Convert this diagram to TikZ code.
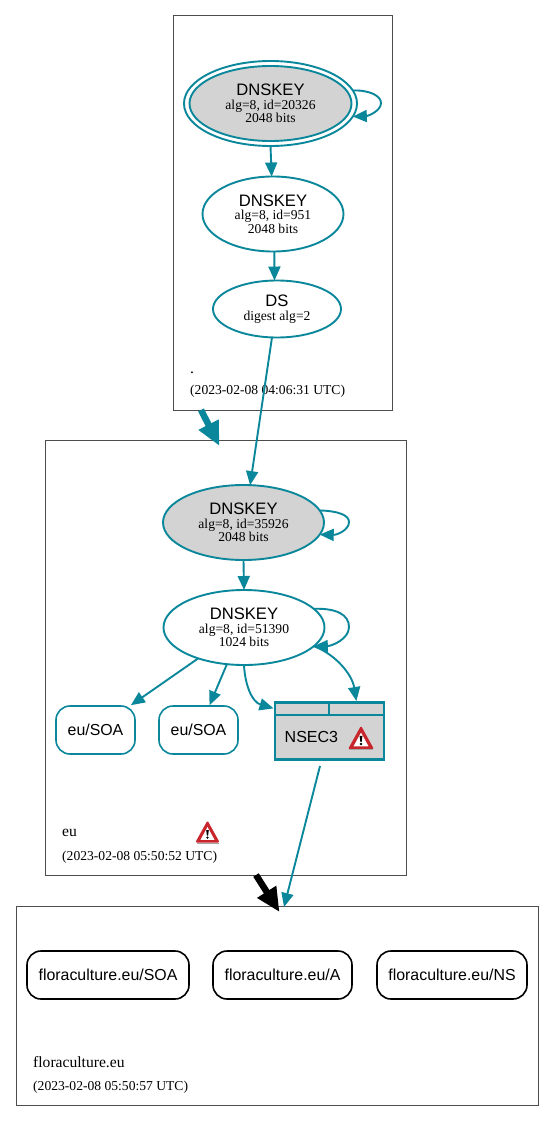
\documentclass[tikz,border=0pt]{standalone}
\usepackage{fontspec}
\setmainfont{Liberation Serif}
\setsansfont{Liberation Sans}
\usetikzlibrary{shapes,arrows.meta,positioning,calc}
\definecolor{dnsteal}{HTML}{0A879A}
\definecolor{dnsgray}{HTML}{D3D3D3}
\definecolor{zoneline}{HTML}{4D4D4D}
\definecolor{warnred}{HTML}{C9252C}
\newcommand{\titlefont}{\sffamily\fontsize{16.6}{15}\selectfont}
\newcommand{\detailfont}{\rmfamily\fontsize{13.6}{13.5}\selectfont}
\newcommand{\namefont}{\rmfamily\fontsize{15.6}{15}\selectfont}
\tikzset{
  zonebox/.style={draw=zoneline, line width=0.8pt, rectangle, inner sep=0pt, anchor=north west},
  keynode/.style={draw=dnsteal, line width=1.9pt, ellipse, inner sep=0pt, outer sep=0pt, align=center, font=\detailfont},
  keygray/.style={keynode, fill=dnsgray},
  rrnode/.style={draw=dnsteal, line width=1.6pt, rectangle, rounded corners=14pt, inner sep=0pt, font=\sffamily\fontsize{15.9}{16}\selectfont, minimum height=48pt},
  hostnode/.style={rrnode, draw=black},
  zonetext/.style={anchor=base west, inner sep=0pt, font=\detailfont},
  edge/.style={draw=dnsteal, line width=1.9pt, -{Triangle[length=14pt,width=12pt]}},
  zonearrow/.style={line width=6.5pt, -{Triangle[length=24pt,width=21pt]}},
  warnicon/.pic={
    \fill[warnred, draw=warnred, line width=2pt, line join=round] (-10.5,9.5) -- (0,-9.5) -- (10.5,9.5) -- cycle;
    \fill[gray!70] (-11,10.5) rectangle (11,11.5);
    \fill[white] (-7,7.8) -- (0,-5) -- (7,7.8) -- cycle;
    \fill[black] (-1.3,-2) -- (1.3,-2) -- (0.6,3.5) -- (-0.6,3.5) -- cycle;
    \fill[black] (0,5.6) circle (1.3);
  }
}
\begin{document}
\begin{tikzpicture}[x=1pt, y=-1pt]
  \useasboundingbox (0,0) rectangle (555,1121);
  % Root zone
  \node[zonebox, minimum width=218.5pt, minimum height=394pt] (zoneroot) at (173,15.5) {};
  \node[zonetext, font=\namefont] (rootname) at (190,373) {.};
  \node[zonetext] (roottime) at (190,394) {(2023-02-08 04:06:31 UTC)};
  % eu zone
  \node[zonebox, minimum width=361pt, minimum height=435pt] (zoneeu) at (45,440) {};
  \node[zonetext, font=\namefont] (euname) at (62,836) {eu};
  \node[zonetext] (eutime) at (62,860.5) {(2023-02-08 05:50:52 UTC)};
  \pic at (207.5,832) {warnicon};
  % floraculture zone
  \node[zonebox, minimum width=522.5pt, minimum height=198.5pt] (zoneflora) at (15.7,906) {};
  \node[zonetext, font=\namefont] (floraname) at (33,1067) {floraculture.eu};
  \node[zonetext] (floratime) at (33,1090) {(2023-02-08 05:50:57 UTC)};
  % Root keys
  \node[keynode, minimum width=173pt, minimum height=85pt] (rootouter) at (270.5,103.5) {};
  \node[keygray, minimum width=162pt, minimum height=75pt] (rootksk) at (270.5,103.5) {{\titlefont DNSKEY}\\alg=8, id=20326\\2048 bits};
  \node[keynode, minimum width=141pt, minimum height=75pt] (rootzsk) at (273,214) {{\titlefont DNSKEY}\\alg=8, id=951\\2048 bits};
  \node[keynode, minimum width=128pt, minimum height=57pt] (rootds) at (277,309) {{\titlefont DS}\\digest alg=2};
  % eu keys
  \node[keygray, minimum width=161pt, minimum height=75pt] (euksk) at (243.5,522.5) {{\titlefont DNSKEY}\\alg=8, id=35926\\2048 bits};
  \node[keynode, minimum width=161pt, minimum height=75pt] (euzsk) at (244,627.5) {{\titlefont DNSKEY}\\alg=8, id=51390\\1024 bits};
  % eu records
  \node[rrnode, minimum width=79pt] (eusoaone) at (95.5,730) {eu/SOA};
  \node[rrnode, minimum width=79pt] (eusoatwo) at (198.5,730) {eu/SOA};
  % NSEC3
  \node[draw=dnsteal, fill=dnsgray, line width=2.6pt, rectangle, inner sep=0pt, minimum width=109pt, minimum height=57pt, anchor=north west] (nsec) at (273.5,701) {};
  \node[draw=dnsteal, line width=1.8pt, rectangle, inner sep=0pt, minimum width=54pt, minimum height=13pt, anchor=north west] (nseccellone) at (273.5,701) {};
  \node[draw=dnsteal, line width=1.8pt, rectangle, inner sep=0pt, minimum width=54pt, minimum height=13pt, anchor=north west] (nseccelltwo) at (328.5,701) {};
  \draw[dnsteal, line width=2.6pt] (nsec.north west) ++(0,14) -- ($(nsec.north east)+(0,14)$);
  \node[anchor=base west, inner sep=0pt, font=\sffamily\fontsize{16}{16}\selectfont] (nseclabel) at (284.5,742.5) {NSEC3};
  \pic[scale=1.08] at (361,738) {warnicon};
  % floraculture records
  \node[hostnode, minimum width=162pt] (florasoa) at (108,975) {floraculture.eu/SOA};
  \node[hostnode, minimum width=139pt] (floraa) at (282.5,975) {floraculture.eu/A};
  \node[hostnode, minimum width=150pt] (florans) at (452,975) {floraculture.eu/NS};
  % Free ends
  \coordinate (nsectail) at (320,766);
  \coordinate (florain) at (284,907);
  \coordinate (rootarrowa) at (201,410);
  \coordinate (rootarrowb) at (219.5,446);
  \coordinate (euarrowa) at (256,875);
  \coordinate (euarrowb) at (279.5,912);
  % Edges
  \draw[edge] (rootouter.south) -- (rootzsk.92);
  \draw[edge] (rootzsk.-88) -- (rootds.95);
  \draw[edge] (rootds.-100) -- (euksk.80);
  \draw[edge] (euksk.south) -- (euzsk.north);
  \draw[edge] (euzsk.214) -- (eusoaone.35);
  \draw[edge] (euzsk.245) -- (eusoatwo.66);
  \draw[edge] (euzsk.south) .. controls (245,685) and (252,702) .. (nseccellone.west);
  \draw[edge] (euzsk.-15) .. controls (335,654) and (352,674) .. (nseccelltwo.north);
  \draw[edge] (nsectail) -- (florain);
  % Loops
  \draw[edge] (rootouter.9) .. controls (370,90) and (381,96) .. (381,103) .. controls (381,111) and (368,116) .. (rootouter.-9);
  \draw[edge] (euksk.9) .. controls (338,511) and (349,515) .. (349,522) .. controls (349,530) and (337,535) .. (euksk.-9);
  \draw[edge] (euzsk.15) .. controls (337,608) and (349,615) .. (349,627) .. controls (349,639) and (332,646) .. (euzsk.-15);
  % Zone arrows
  \draw[zonearrow, dnsteal] (rootarrowa) -- (rootarrowb);
  \draw[zonearrow, black] (euarrowa) -- (euarrowb);
\end{tikzpicture}
\end{document}
